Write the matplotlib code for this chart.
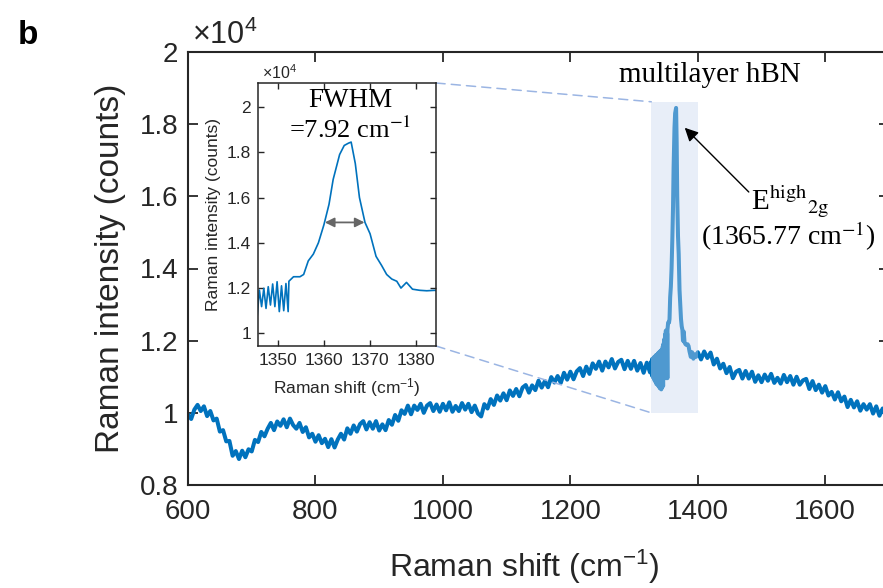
import numpy as np
import matplotlib
matplotlib.use('Agg')
import matplotlib.pyplot as plt
from matplotlib.patches import Rectangle, ConnectionPatch
from matplotlib.ticker import FuncFormatter

plt.rcParams['font.family'] = ['Liberation Sans', 'DejaVu Sans']
plt.rcParams['mathtext.fontset'] = 'custom'
plt.rcParams['mathtext.rm'] = 'Liberation Sans'
plt.rcParams['mathtext.it'] = 'Liberation Sans:italic'
plt.rcParams['mathtext.bf'] = 'Liberation Sans:bold'

# intensities in units of 1e4 counts
# background left of the peak, 600..1325 cm-1 every 5 cm-1
left_int = [
    0.995, 0.983, 1.009, 1.022, 1.005, 1.018, 0.991, 1.005, 0.979, 0.984,
    0.948, 0.952, 0.921, 0.922, 0.881, 0.894, 0.872, 0.895, 0.877, 0.899,
    0.893, 0.925, 0.919, 0.947, 0.935, 0.956, 0.972, 0.952, 0.976, 0.964,
    0.982, 0.960, 0.984, 0.966, 0.956, 0.972, 0.947, 0.960, 0.932, 0.942,
    0.920, 0.938, 0.916, 0.928, 0.905, 0.927, 0.904, 0.926, 0.942, 0.926,
    0.957, 0.942, 0.965, 0.948, 0.969, 0.977, 0.954, 0.974, 0.956, 0.977,
    0.951, 0.968, 0.952, 0.980, 0.967, 0.994, 0.978, 1.007, 0.997, 1.020,
    0.996, 1.020, 1.008, 1.025, 1.000, 1.020, 1.027, 1.005, 1.023, 1.003,
    1.025, 1.007, 1.029, 1.003, 1.019, 1.005, 1.027, 1.009, 1.025, 1.002,
    1.020, 0.998, 0.990, 1.024, 1.012, 1.038, 1.022, 1.048, 1.034, 1.054,
    1.035, 1.062, 1.047, 1.066, 1.046, 1.070, 1.077, 1.056, 1.076, 1.063,
    1.089, 1.070, 1.088, 1.071, 1.099, 1.084, 1.102, 1.083, 1.111, 1.092,
    1.114, 1.093, 1.115, 1.124, 1.102, 1.128, 1.108, 1.137, 1.122, 1.142,
    1.117, 1.142, 1.126, 1.149, 1.123, 1.141, 1.147, 1.121, 1.144, 1.122,
    1.144, 1.117, 1.138, 1.111, 1.139, 1.112,
]
left_shift = np.arange(600, 1326, 5)

# dense zig-zag just before the peak (highs and lows)
zig_hi = [1.14, 1.145, 1.15, 1.148, 1.152, 1.155, 1.15, 1.158, 1.16, 1.155,
          1.162, 1.165, 1.16, 1.168, 1.17, 1.165, 1.172, 1.175, 1.176, 1.184,
          1.191, 1.199, 1.206, 1.218, 1.228, 1.21, 1.22]
zig_lo = [1.11, 1.105, 1.10, 1.098, 1.095, 1.09, 1.088, 1.085, 1.08, 1.085,
          1.078, 1.075, 1.08, 1.07, 1.068, 1.072, 1.065, 1.07, 1.11, 1.074,
          1.118, 1.11, 1.125, 1.118, 1.096, 1.10, 1.096]
zig_hi_shift = np.arange(27) * 0.96 + 1326.8
zig_lo_shift = zig_hi_shift + 0.48

# E2g peak
peak_shift = [1352.4, 1353.4, 1354.8, 1355.6, 1356.6, 1357.7, 1358.8, 1360.0,
              1361.1, 1362.0, 1363.4, 1364.4, 1365.3, 1365.9, 1366.8, 1367.7,
              1368.9, 1370.0, 1371.3, 1372.5, 1373.6, 1374.7, 1375.8, 1376.7,
              1377.9, 1379.2, 1380.8, 1382.3, 1384.0, 1385.5, 1387.0, 1389.0,
              1391.0, 1393.0, 1395.0, 1397.0]
peak_int = [1.23, 1.25, 1.25, 1.26, 1.32, 1.35, 1.40, 1.48, 1.57, 1.68, 1.79,
            1.83, 1.84, 1.845, 1.75, 1.60, 1.49, 1.44, 1.34, 1.30, 1.26, 1.24,
            1.23, 1.20, 1.225, 1.195, 1.19, 1.188, 1.19, 1.185, 1.17, 1.155,
            1.168, 1.15, 1.162, 1.155]

# background right of the peak, 1400..1700 cm-1 every 5 cm-1
right_int = [
    1.168, 1.148, 1.170, 1.152, 1.167, 1.134, 1.150, 1.123, 1.136, 1.110,
    1.127, 1.096, 1.114, 1.119, 1.095, 1.116, 1.095, 1.114, 1.086, 1.104,
    1.085, 1.106, 1.089, 1.108, 1.083, 1.097, 1.081, 1.105, 1.085, 1.102,
    1.078, 1.100, 1.078, 1.090, 1.094, 1.066, 1.088, 1.063, 1.078, 1.056,
    1.074, 1.048, 1.058, 1.037, 1.057, 1.032, 1.045, 1.016, 1.036, 1.015,
    1.032, 1.006, 1.024, 1.009, 1.024, 0.998, 1.018, 0.992, 1.012, 0.992,
    1.000,
]
right_shift = np.arange(1400, 1701, 5)

zig_shift = np.ravel(np.column_stack([zig_hi_shift, zig_lo_shift]))
zig_int = np.ravel(np.column_stack([zig_hi, zig_lo]))

shift = np.concatenate([left_shift, zig_shift, peak_shift, right_shift])
inten = np.concatenate([left_int, zig_int, peak_int, right_int])

blue = '#0072BD'
axcol = '#262626'

fig = plt.figure(figsize=(8.83, 5.88), dpi=100)
ax = fig.add_axes([188/883, 103/588, 701/883, 433/588])
ax.plot(shift, inten, color=blue, lw=2.9, zorder=2)
ax.add_patch(Rectangle((1327, 1.0), 73, 0.862, facecolor='#c6d6ef',
                       alpha=0.4, edgecolor='none', zorder=3))
ax.set_xlim(600, 1700)
ax.set_ylim(0.8, 2)
ax.set_xticks([600, 800, 1000, 1200, 1400, 1600])
ax.set_yticks([0.8, 1, 1.2, 1.4, 1.6, 1.8, 2])
ax.yaxis.set_major_formatter(FuncFormatter(lambda v, p: '%g' % v))
ax.tick_params(direction='in', length=7, width=1.3, top=True, right=True,
               labelsize=20, colors=axcol)
ax.tick_params(axis='x', pad=10)
ax.tick_params(axis='y', pad=7)
for s in ax.spines.values():
    s.set_linewidth(1.5)
    s.set_color(axcol)
ax.set_xlabel('Raman shift (cm$^{-1}$)', fontsize=23, color=axcol)
ax.xaxis.set_label_coords(0.48, -0.145)
ax.set_ylabel('Raman intensity (counts)', fontsize=24, color=axcol, labelpad=10)
ax.text(0.005, 1.003, r'$\times10^4$', transform=ax.transAxes, fontsize=22,
        color=axcol, ha='left', va='bottom')

serif = dict(fontfamily='Liberation Serif', math_fontfamily='stix', color='black')
ax.text(1419, 1.936, 'multilayer hBN', fontsize=21, ha='center', va='center', **serif)
ax.text(1545, 1.585, r'E$^{\mathrm{high}}$$_{\mathrm{2g}}$', fontsize=21,
        ha='center', va='center', **serif)
ax.text(1543, 1.488, '(1365.77 cm$^{-1}$)', fontsize=20, ha='center',
        va='center', **serif)
ax.annotate('', xy=(1379.5, 1.79), xytext=(1480, 1.612),
            arrowprops=dict(arrowstyle='-|>', color='black', lw=1,
                            mutation_scale=20, shrinkA=0, shrinkB=0))

# inset
ins = fig.add_axes([258/883, 242/588, 178/883, 263/588], zorder=5)
ins.plot(shift, inten, color=blue, lw=1.2)
ins.set_xlim(1345.7, 1384.3)
ins.set_ylim(0.944, 2.106)
ins.set_xticks([1350, 1360, 1370, 1380])
ins.set_yticks([1, 1.2, 1.4, 1.6, 1.8, 2])
ins.yaxis.set_major_formatter(FuncFormatter(lambda v, p: '%g' % v))
ins.tick_params(direction='in', length=4, width=1, top=True, right=True,
                labelsize=12.5, colors=axcol, pad=5)
for s in ins.spines.values():
    s.set_linewidth(1.1)
    s.set_color(axcol)
ins.set_xlabel('Raman shift (cm$^{-1}$)', fontsize=12.5, color=axcol, labelpad=6)
ins.set_ylabel('Raman intensity (counts)', fontsize=12.5, color=axcol, labelpad=4)
ins.text(0.02, 1.005, r'$\times10^4$', transform=ins.transAxes, fontsize=11.5,
         color=axcol, ha='left', va='bottom')
ins.text(0.52, 0.935, 'FWHM', transform=ins.transAxes, fontsize=19.5,
         ha='center', va='center', **serif)
ins.text(0.52, 0.82, '=7.92 cm$^{-1}$', transform=ins.transAxes, fontsize=19,
         ha='center', va='center', **serif)
ins.annotate('', xy=(1360.2, 1.49), xytext=(1368.8, 1.49),
             arrowprops=dict(arrowstyle='<|-|>', color='#666666', lw=1.3,
                             mutation_scale=14, shrinkA=0, shrinkB=0))

# dashed guides from inset to the highlighted region
for ya, yb in [(1, 1.862), (0, 1.0)]:
    con = ConnectionPatch(xyA=(1, ya), coordsA=ins.transAxes,
                          xyB=(1327, yb), coordsB=ax.transData,
                          color='#9bb5e3', lw=1.1, linestyle=(0, (6, 4)))
    fig.add_artist(con)

fig.text(18/883, 1 - 35/588, 'b', fontsize=24, fontweight='bold',
         ha='left', va='center')

fig.savefig('out.png', dpi=100)
